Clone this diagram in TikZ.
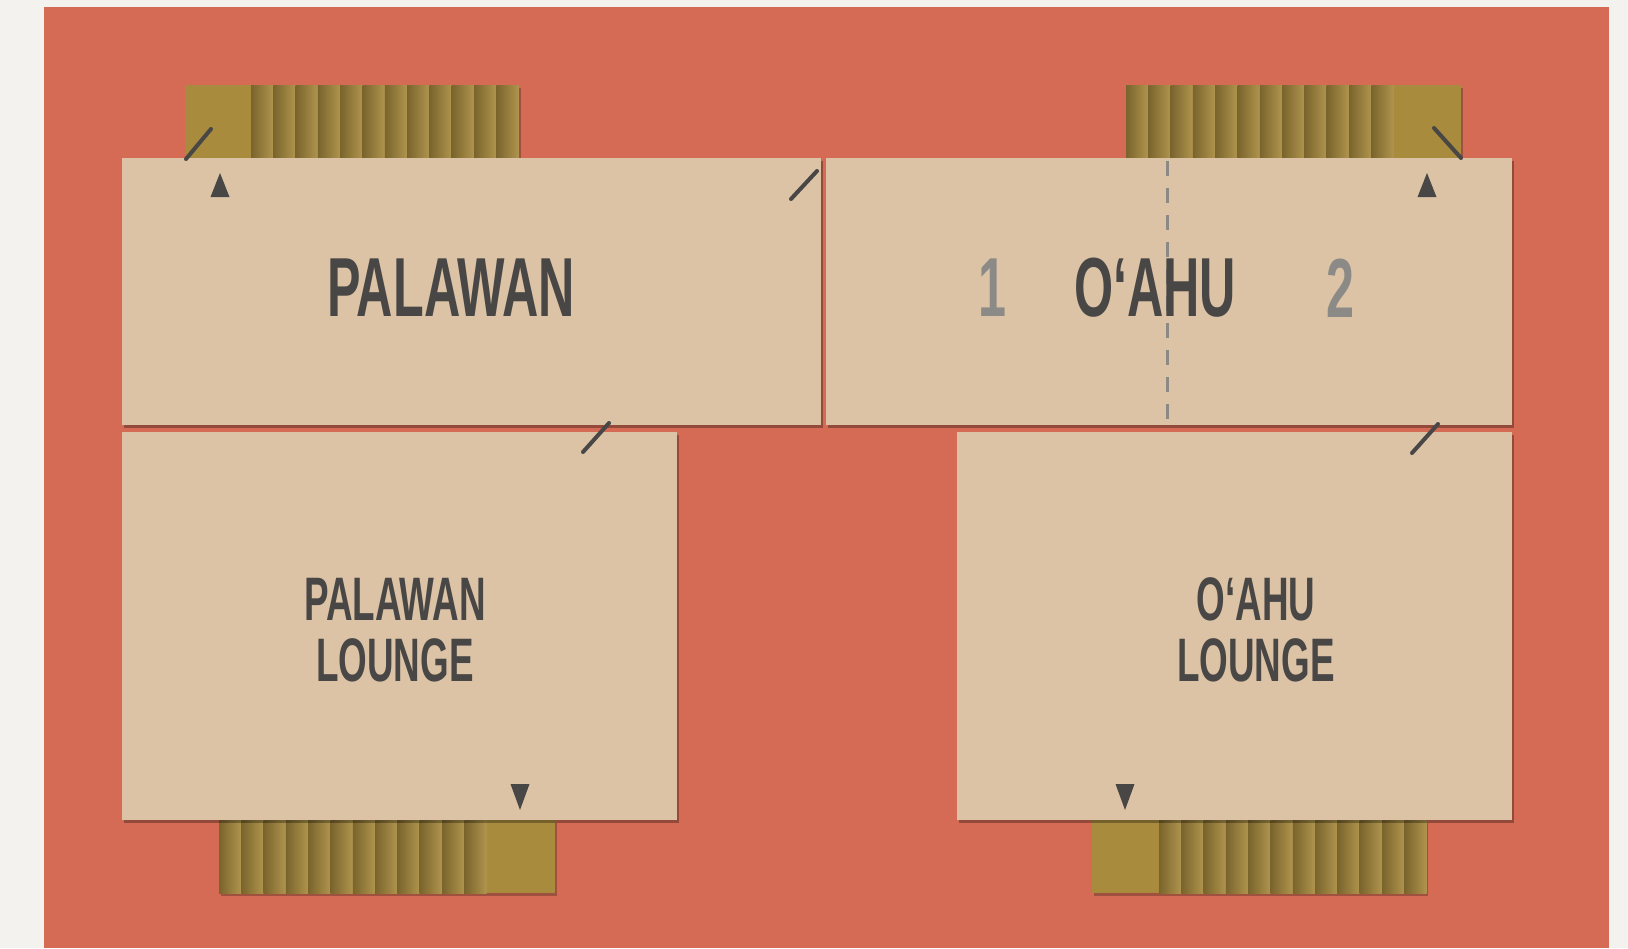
\documentclass[tikz,border=0pt]{standalone}
\usepackage{fontspec}
\newfontfamily\signfont[FakeStretch=0.6]{Liberation Sans}
\usetikzlibrary{shadows}
\definecolor{paper}{HTML}{F3F2EF}
\definecolor{brick}{HTML}{D56B54}
\definecolor{card}{HTML}{DCC3A6}
\definecolor{ochre}{HTML}{A98B3E}
\definecolor{ink}{HTML}{484746}
\definecolor{faint}{HTML}{8C8A87}
\begin{document}
\begin{tikzpicture}[x=0.5pt,y=-0.5pt,
    room/.style={fill=card, drop shadow={shadow xshift=1pt, shadow yshift=-1.5pt, fill=black, opacity=0.3}},
    pad/.style={fill=ochre, drop shadow={shadow xshift=1pt, shadow yshift=-1.5pt, fill=black, opacity=0.25}},
    rib/.style={left color=ochre!72!black, middle color=ochre, right color=ochre!92!white},
    slashln/.style={ink, line width=2pt, line cap=round},
    arrowhd/.style={fill=ink},
    bigname/.style={font=\signfont\bfseries\fontsize{41.9}{42}\selectfont, text=ink, inner sep=0pt},
    smallname/.style={font=\signfont\bfseries\fontsize{30.7}{30.5}\selectfont, text=ink, align=center, inner sep=0pt}]
\useasboundingbox (0,0) rectangle (1628,948);
\fill[paper] (0,0) rectangle (1628,948);
\fill[brick] (44,7) rectangle (1609,948);
% partition pads
\foreach \a/\b/\y in {185/519/85, 1126/1461/85, 219/555/820, 1092/1426/820}
    \fill[pad] (\a,\y) rectangle (\b,\y+73);
\foreach \x/\y in {251/85, 1126/85, 219/820, 1159/820} {
    \foreach \i in {0,...,11} {
        \shade[rib] ({\x+22.3*\i},\y) rectangle ++(22.3,73);
    }
}
% rooms
\fill[room] (122,158) rectangle (821,425);
\fill[room] (826,158) rectangle (1512,425);
\fill[room] (122,432) rectangle (677,820);
\fill[room] (957,432) rectangle (1512,820);
\draw[faint, line width=1.5pt, dash pattern=on 7.5pt off 6pt] (1167,161) -- (1167,422);
% labels
\node[bigname] (palawan) at (451,288) {PALAWAN};
\node[bigname] (oahu) at (1155,288) {O‘AHU};
\node[bigname, text=faint] (one) at (992,288) {1};
\node[bigname, text=faint] (two) at (1340,288) {2};
\node[smallname] (palawanlounge) at (395,630) {PALAWAN\\LOUNGE};
\node[smallname] (oahulounge) at (1256,630) {O‘AHU\\LOUNGE};
% entry marks
\fill[arrowhd] (220,173) -- (229.5,197) -- (210.5,197) -- cycle;
\fill[arrowhd] (1427,173) -- (1436.5,197) -- (1417.5,197) -- cycle;
\fill[arrowhd] (520,810) -- (529.5,784) -- (510.5,784) -- cycle;
\fill[arrowhd] (1125,810) -- (1134.5,784) -- (1115.5,784) -- cycle;
% doors
\draw[slashln] (186,159) -- (211,129);
\draw[slashln] (791,199) -- (817,171);
\draw[slashln] (583,452) -- (609,423);
\draw[slashln] (1412,453) -- (1438,424);
\draw[slashln] (1434,128) -- (1461,158);
\end{tikzpicture}
\end{document}
